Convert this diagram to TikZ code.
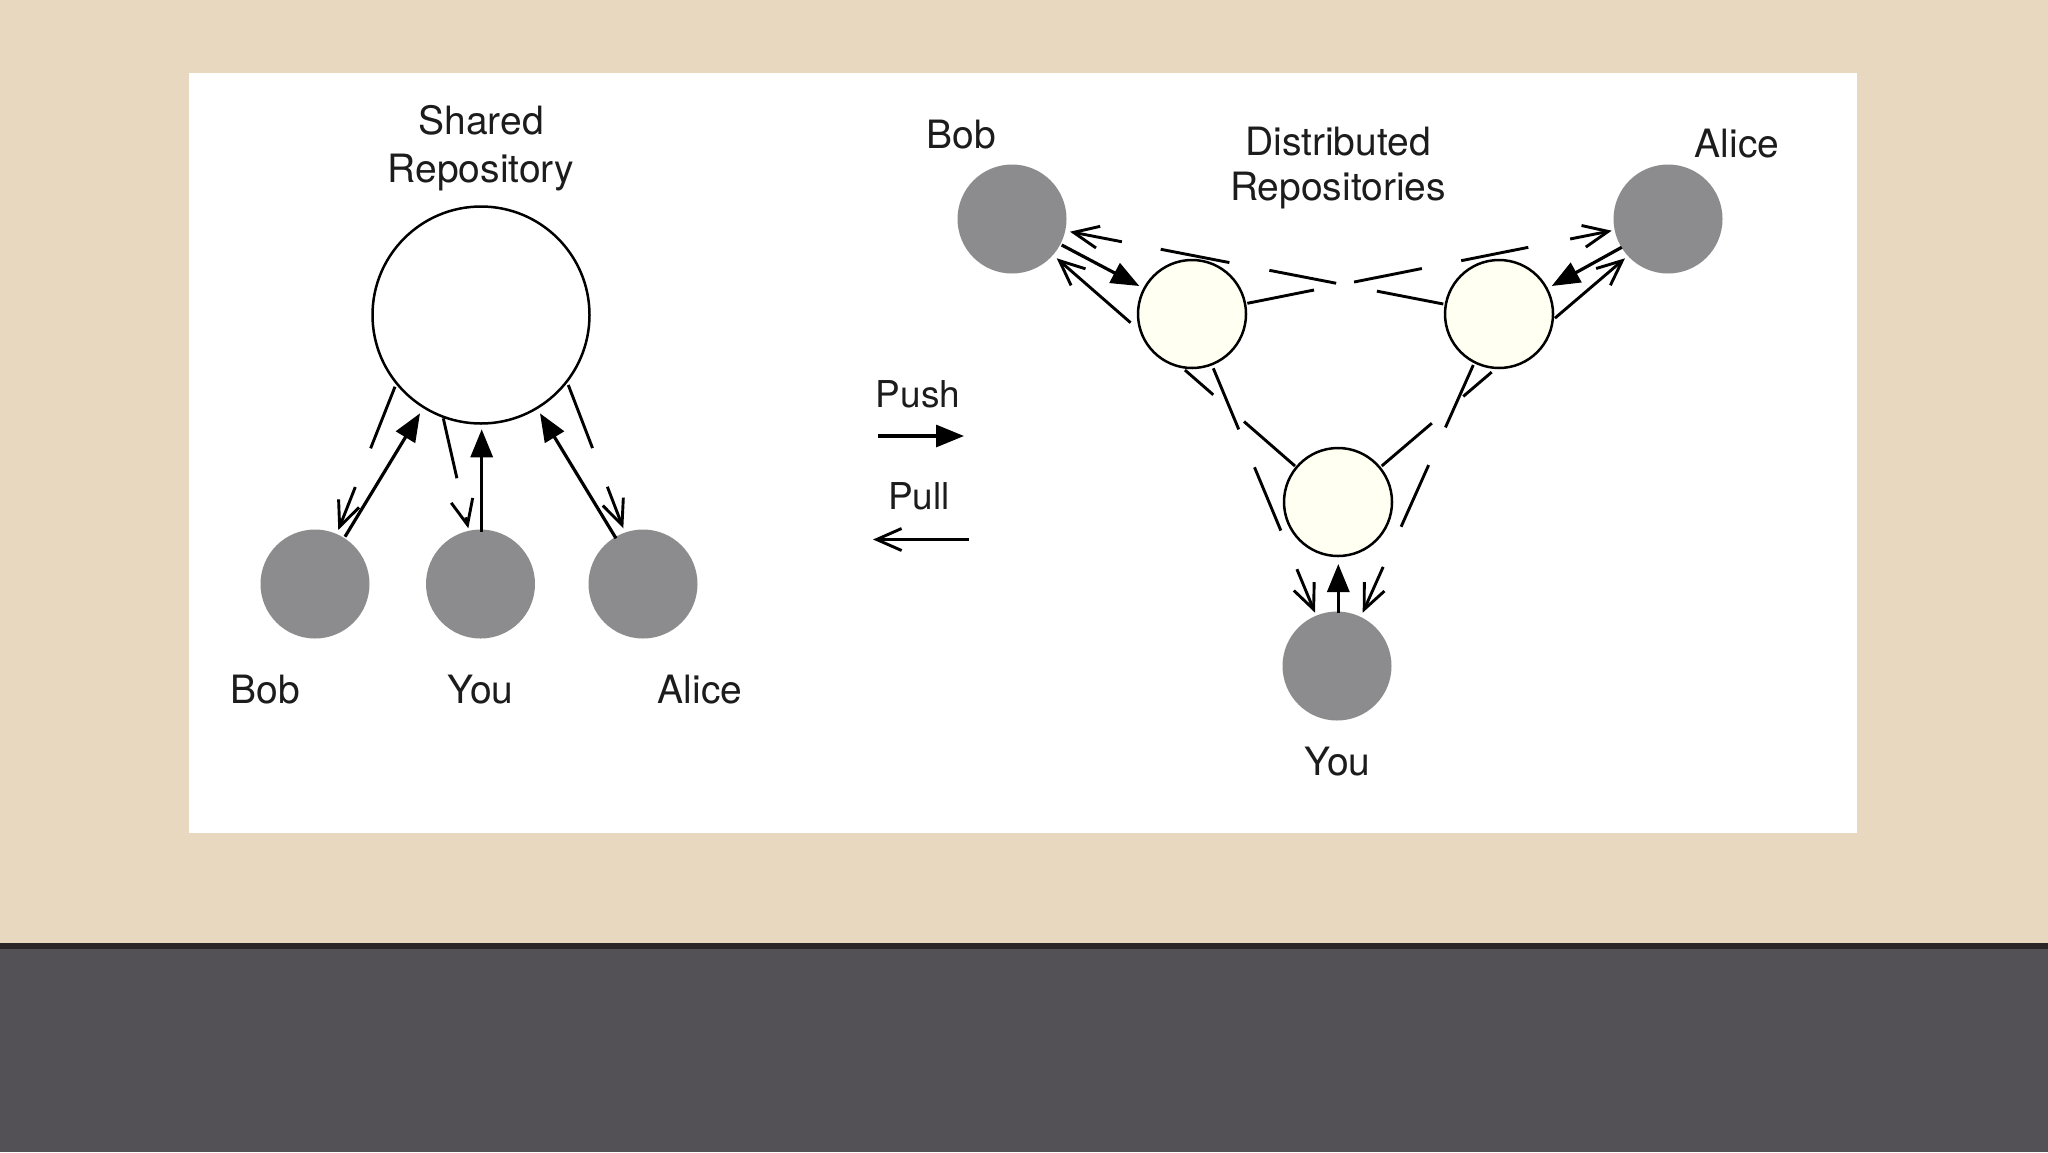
\documentclass[tikz,border=0pt]{standalone}
\usepackage{fontspec}
\setmainfont{TeX Gyre Heros}
\usetikzlibrary{arrows.meta,calc}
\definecolor{bgbeige}{RGB}{232,216,192}
\definecolor{darkline}{RGB}{42,38,40}
\definecolor{bottomgray}{RGB}{83,81,85}
\definecolor{usergray}{RGB}{140,140,142}
\definecolor{repofill}{RGB}{255,255,242}
\definecolor{inkcol}{RGB}{28,28,28}
\begin{document}
\begin{tikzpicture}[x=0.5pt,y=-0.5pt,
  user/.style={circle,fill=usergray,draw=none,minimum size=54.5pt,inner sep=0pt},
  repo/.style={circle,draw=black,line width=1.25pt,fill=repofill,minimum size=54pt,inner sep=0pt},
  central/.style={circle,draw=black,line width=1.25pt,fill=white,minimum size=108.5pt,inner sep=0pt},
  lbl/.style={font=\fontsize{19.5}{23}\selectfont,anchor=base,inner sep=0pt,text=inkcol},
  smalllbl/.style={lbl,font=\fontsize{18.5}{22}\selectfont},
  push/.style={line width=1.6pt,-{Triangle[length=14pt,width=11pt]}},
  pull/.style={line width=1.45pt,-{Straight Barb[length=12.5pt,width=11pt]}}]
\useasboundingbox (0,0) rectangle (2048,1152);
% background
\fill[bgbeige] (0,0) rectangle (2048,943);
\fill[darkline] (0,943) rectangle (2048,949);
\fill[bottomgray] (0,949) rectangle (2048,1152);
\fill[white] (189,73) rectangle (1857,833);

% ---------- left: shared repository ----------
\node[central] (shared) at (481,315) {};
\node[user] (bobL) at (315,584) {};
\node[user] (youL) at (480.5,584) {};
\node[user] (aliceL) at (643,584) {};
\node[lbl] (tShared) at (481,134.5) {Shared};
\node[lbl] (tRepository) at (481,182.5) {Repository};
\node[lbl] (tBobL) at (265.5,703) {Bob};
\node[lbl] (tYouL) at (480.5,703) {You};
\node[lbl] (tAliceL) at (700,703) {Alice};

% Bob
\coordinate (bpS) at ($(shared)+(-86,71.7)$);
\coordinate (bpE) at ($(bobL)+(23.3,-54)$);
\draw[pull] (bpS) -- ($(bpS)!0.43!(bpE)$) ($(bpS)!0.70!(bpE)$) -- (bpE);
\draw[push] ($(bobL)+(30,-47.3)$) -- ($(shared)+(-61,98.3)$);
% You
\coordinate (ypS) at ($(shared)+(-37.7,103.3)$);
\coordinate (ypE) at ($(youL)+(-12.2,-55.7)$);
\draw[pull] (ypS) -- ($(ypS)!0.545!(ypE)$) ($(ypS)!0.90!(ypE)$) -- (ypE);
\draw[push] ($(youL)+(1.2,-52.3)$) -- ($(shared)+(0.7,114.3)$);
% Alice
\coordinate (apS) at ($(shared)+(87.3,70)$);
\coordinate (apE) at ($(aliceL)+(-19.7,-55.7)$);
\draw[pull] (apS) -- ($(apS)!0.44!(apE)$) ($(apS)!0.71!(apE)$) -- (apE);
\draw[push] ($(aliceL)+(-27,-45.7)$) -- ($(shared)+(59,98.3)$);

% ---------- legend ----------
\node[smalllbl] (tPush) at (918,407) {Push};
\coordinate (pushA) at (878,436);
\coordinate (pushB) at (964,436);
\draw[push] (pushA) -- (pushB);
\node[smalllbl] (tPull) at (919,509) {Pull};
\coordinate (pullA) at (969,539.5);
\coordinate (pullB) at (873,539.5);
\draw[pull] (pullA) -- (pullB);

% ---------- right: distributed repositories ----------
\node[user] (bobR) at (1012,219) {};
\node[user] (aliceR) at (1668,219) {};
\node[user] (youR) at (1337,666) {};
\node[repo] (bobRepo) at (1192,314) {};
\node[repo] (aliceRepo) at (1499,314) {};
\node[repo] (youRepo) at (1338,502) {};
\node[lbl] (tBobR) at (961,148.5) {Bob};
\node[lbl] (tDist) at (1338,155.5) {Distributed};
\node[lbl] (tRepos) at (1338,200.5) {Repositories};
\node[lbl] (tAliceR) at (1737,157) {Alice};
\node[lbl] (tYouR) at (1337.5,775.5) {You};

% pull: Alice's repo -> Bob
\coordinate (t1S) at ($(aliceRepo)+(-55.7,-10)$);
\coordinate (t1E) at ($(bobR)+(58,12.7)$);
\draw[pull] (t1S) -- ($(t1S)!0.178!(t1E)$) ($(t1S)!0.287!(t1E)$) -- ($(t1S)!0.466!(t1E)$)
  ($(t1S)!0.573!(t1E)$) -- ($(t1S)!0.757!(t1E)$) ($(t1S)!0.861!(t1E)$) -- (t1E);
% pull: Bob's repo -> Alice
\coordinate (t2S) at ($(bobRepo)+(55.3,-10.7)$);
\coordinate (t2E) at ($(aliceR)+(-56.3,11.7)$);
\draw[pull] (t2S) -- ($(t2S)!0.183!(t2E)$) ($(t2S)!0.293!(t2E)$) -- ($(t2S)!0.479!(t2E)$)
  ($(t2S)!0.587!(t2E)$) -- ($(t2S)!0.771!(t2E)$) ($(t2S)!0.886!(t2E)$) -- (t2E);
% pull: your repo -> Bob
\coordinate (l1S) at ($(youRepo)+(-43,-36)$);
\coordinate (l1E) at ($(bobR)+(44.7,39.3)$);
\draw[pull] (l1S) -- ($(l1S)!0.214!(l1E)$) ($(l1S)!0.343!(l1E)$) -- ($(l1S)!0.462!(l1E)$)
  ($(l1S)!0.69!(l1E)$) -- (l1E);
% pull: your repo -> Alice
\coordinate (r1S) at ($(youRepo)+(43.7,-36)$);
\coordinate (r1E) at ($(aliceR)+(-43,39.3)$);
\draw[pull] (r1S) -- ($(r1S)!0.206!(r1E)$) ($(r1S)!0.335!(r1E)$) -- ($(r1S)!0.452!(r1E)$)
  ($(r1S)!0.712!(r1E)$) -- (r1E);
% pull: Bob's repo -> You
\coordinate (l2S) at ($(bobRepo)+(21.3,54.3)$);
\coordinate (l2E) at ($(youR)+(-22,-53.3)$);
\draw[pull] (l2S) -- ($(l2S)!0.25!(l2E)$) ($(l2S)!0.405!(l2E)$) -- ($(l2S)!0.664!(l2E)$)
  ($(l2S)!0.822!(l2E)$) -- (l2E);
% pull: Alice's repo -> You
\coordinate (r2S) at ($(aliceRepo)+(-25.7,51)$);
\coordinate (r2E) at ($(youR)+(25.7,-53.3)$);
\draw[pull] (r2S) -- ($(r2S)!0.252!(r2E)$) ($(r2S)!0.404!(r2E)$) -- ($(r2S)!0.653!(r2E)$)
  ($(r2S)!0.815!(r2E)$) -- (r2E);
% push arrows
\draw[push] ($(bobR)+(49.7,26)$) -- ($(bobRepo)+(-52.7,-28)$);
\draw[push] ($(aliceR)+(-46.3,28.3)$) -- ($(aliceRepo)+(52.7,-28)$);
\draw[push] ($(youR)+(1.3,-52.7)$) -- ($(youRepo)+(0.3,62)$);
\end{tikzpicture}
\end{document}
